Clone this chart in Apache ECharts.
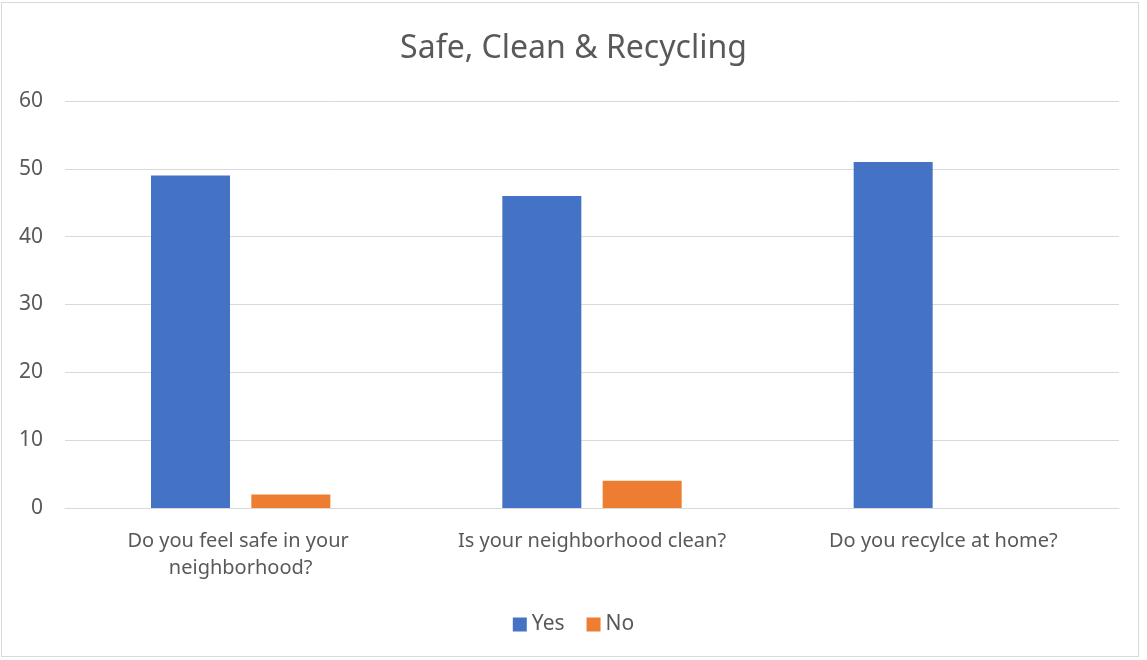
<!DOCTYPE html>
<html>
<head>
<meta charset="utf-8">
<script src="https://cdn.jsdelivr.net/npm/echarts@6/dist/echarts.min.js"></script>
<style>
html, body { margin: 0; padding: 0; background: #fff; }
#frame { position: absolute; left: 1px; top: 2px; width: 1138px; height: 655px; border: 1px solid #d9d9d9; box-sizing: border-box; }
#chart { width: 1147px; height: 660px; position: absolute; left: 0; top: 0; }
</style>
</head>
<body>
<div id="frame"></div>
<div id="chart"></div>
<script type="text/javascript">
// chart data
var categories = ['Do you feel safe in your neighborhood?', 'Is your neighborhood clean?', 'Do you recylce at home?'];
var yesValues = [49, 46, 51];
var noValues = [2, 4, 0];
var yTicks = [0, 10, 20, 30, 40, 50, 60];

var myChart = echarts.init(document.getElementById('chart'));
var textColor = '#595959';
var font = '"Noto Sans", sans-serif';

var option = {
    title: {
        text: 'Safe, Clean & Recycling',
        left: 'center',
        top: 28,
        textStyle: { fontFamily: font, fontSize: 32, fontWeight: 'normal', color: textColor }
    },
    legend: {
        top: 609,
        left: 'center',
        icon: 'rect',
        itemWidth: 14,
        itemHeight: 14,
        itemGap: 22,
        textStyle: { fontFamily: font, fontSize: 21, color: textColor }
    },
    grid: {
        left: 65,
        right: 28,
        top: 101,
        bottom: 152,
        containLabel: false
    },
    xAxis: {
        type: 'category',
        data: categories,
        axisTick: { show: false },
        axisLine: { lineStyle: { color: '#d9d9d9', width: 1 } },
        axisLabel: {
            interval: 0,
            fontFamily: font,
            fontSize: 20,
            color: textColor,
            margin: 20,
            width: 300,
            overflow: 'break',
            lineHeight: 27
        }
    },
    yAxis: {
        type: 'value',
        min: yTicks[0],
        max: yTicks[yTicks.length - 1],
        interval: 10,
        axisLine: { show: false },
        axisTick: { show: false },
        splitLine: { lineStyle: { color: '#d9d9d9', width: 1 } },
        axisLabel: { fontFamily: font, fontSize: 21, color: textColor, margin: 22 }
    },
    series: [
        {
            name: 'Yes',
            type: 'bar',
            data: yesValues,
            barWidth: 79,
            barGap: '27%',
            itemStyle: { color: '#4472C4' }
        },
        {
            name: 'No',
            type: 'bar',
            data: noValues,
            barWidth: 79,
            itemStyle: { color: '#ED7D31' }
        }
    ]
};

myChart.setOption(option, true);
</script>
</body>
</html>
